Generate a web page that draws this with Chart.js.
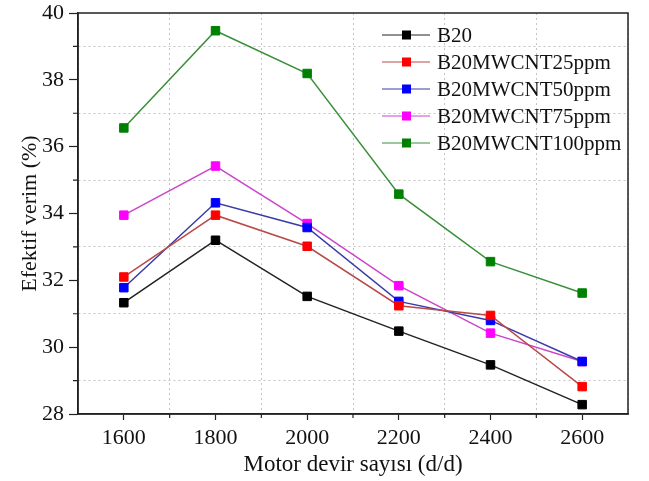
<!DOCTYPE html>
<html lang="tr">
  <head>
    <meta charset="UTF-8" />
    <title>Efektif verim</title>
    <script src="https://cdn.jsdelivr.net/npm/chart.js"></script>
    <style>
      html, body { margin: 0; padding: 0; background: #fff; }
      #wrap { width: 649px; height: 481px; }
    </style>
  </head>
  <body>
    <div id="wrap"><canvas id="verimChart"></canvas></div>
    <script>
      // motor speeds (d/d)
      const devir = [1600, 1800, 2000, 2200, 2400, 2600];

      // effective efficiency (%)
      const b20 = [31.33, 33.2, 31.52, 30.48, 29.47, 28.28];
      const b20_25ppm = [32.1, 33.95, 33.02, 31.24, 30.95, 28.82];
      const b20_50ppm = [31.78, 34.32, 33.58, 31.37, 30.8, 29.57];
      const b20_75ppm = [33.95, 35.42, 33.7, 31.84, 30.42, 29.57];
      const b20_100ppm = [36.56, 39.47, 38.19, 34.58, 32.56, 31.62];

      const seriesNames = ["B20", "B20MWCNT25ppm", "B20MWCNT50ppm", "B20MWCNT75ppm", "B20MWCNT100ppm"];

      const serif = "'Liberation Serif', 'Times New Roman', serif";

      function toXY(vals) {
        return vals.map((v, i) => ({ x: devir[i], y: v }));
      }

      function makeSet(label, vals, lineColor, markColor) {
        return {
          label: label,
          data: toXY(vals),
          borderColor: lineColor,
          backgroundColor: markColor,
          borderWidth: 1.5,
          pointStyle: "rect",
          pointRadius: 6,
          pointHoverRadius: 6,
          pointBackgroundColor: markColor,
          pointBorderColor: markColor,
          pointBorderWidth: 1,
          tension: 0,
        };
      }

      // frame, short minor ticks and the legend inside the plot
      const framePlugin = {
        id: "frame",
        afterDraw(chart) {
          const { ctx, chartArea: a, scales } = chart;
          ctx.save();
          ctx.strokeStyle = "#222";
          ctx.lineWidth = 1.5;
          ctx.strokeRect(a.left, a.top, a.right - a.left, a.bottom - a.top);

          // minor ticks
          ctx.lineWidth = 1.2;
          ctx.beginPath();
          for (let v = 1700; v < 2700; v += 200) {
            const px = scales.x.getPixelForValue(v);
            ctx.moveTo(px, a.bottom);
            ctx.lineTo(px, a.bottom + 4);
          }
          for (let v = 29; v < 40; v += 2) {
            const py = scales.y.getPixelForValue(v);
            ctx.moveTo(a.left, py);
            ctx.lineTo(a.left - 5, py);
          }
          ctx.stroke();

          // legend
          const legendX = 382, legendY = 35, rowH = 27;
          ctx.font = "21px " + serif;
          ctx.textBaseline = "middle";
          chart.data.datasets.forEach((ds, i) => {
            const y = legendY + i * rowH;
            ctx.strokeStyle = ds.borderColor;
            ctx.lineWidth = 1;
            ctx.beginPath();
            ctx.moveTo(legendX, y);
            ctx.lineTo(legendX + 48, y);
            ctx.stroke();
            ctx.fillStyle = ds.pointBackgroundColor;
            ctx.fillRect(legendX + 20, y - 4.5, 9, 9);
            ctx.fillStyle = "#111";
            ctx.fillText(ds.label, legendX + 55, y + 1);
          });
          ctx.restore();
        },
      };

      const ctx = document.getElementById("verimChart").getContext("2d");
      const verimChart = new Chart(ctx, {
        type: "line",
        data: {
          datasets: [
            makeSet(seriesNames[0], b20, "#222222", "#000000"),
            makeSet(seriesNames[1], b20_25ppm, "#b84a4a", "#ff0000"),
            makeSet(seriesNames[2], b20_50ppm, "#3a3aa8", "#0000ff"),
            makeSet(seriesNames[3], b20_75ppm, "#cc44cc", "#ff00ff"),
            makeSet(seriesNames[4], b20_100ppm, "#3a8f3a", "#008000"),
          ],
        },
        options: {
          responsive: true,
          maintainAspectRatio: false,
          animation: false,
          layout: { padding: { top: 13, right: 21, left: 0, bottom: 0 } },
          plugins: {
            legend: { display: false },
            tooltip: { enabled: false },
          },
          scales: {
            x: {
              type: "linear",
              min: 1500,
              max: 2700,
              afterFit: (s) => { s.height = 67; },
              ticks: {
                stepSize: 100,
                autoSkip: false,
                maxRotation: 0,
                padding: 5,
                color: "#111",
                font: { family: serif, size: 22 },
                callback: (v) => (v % 200 === 0 ? String(v) : ""),
              },
              grid: {
                color: (c) => (c.tick && c.tick.value % 200 === 100 ? "#c4c4c4" : "rgba(0,0,0,0)"),
                tickColor: (c) => (c.tick && c.tick.value % 200 === 0 ? "#222" : "rgba(0,0,0,0)"),
                tickLength: 6,
                tickWidth: 1.2,
                lineWidth: 1,
              },
              border: { display: true, color: "#222", width: 1.5, dash: [2, 3] },
              title: {
                display: true,
                text: "Motor devir sayısı (d/d)",
                color: "#111",
                font: { family: serif, size: 23 },
                padding: { top: 0, bottom: 2 },
              },
            },
            y: {
              min: 28,
              max: 40,
              afterFit: (s) => {
                s.width = 78;
                s.paddingTop = 0;
                s.paddingBottom = 0;
              },
              ticks: {
                stepSize: 1,
                autoSkip: false,
                padding: 5,
                color: "#111",
                font: { family: serif, size: 22 },
                callback: (v) => (v % 2 === 0 ? String(v) : ""),
              },
              grid: {
                color: (c) => (c.tick && c.tick.value % 2 === 1 ? "#c4c4c4" : "rgba(0,0,0,0)"),
                tickColor: (c) => (c.tick && c.tick.value % 2 === 0 ? "#222" : "rgba(0,0,0,0)"),
                tickLength: 9,
                tickWidth: 1.2,
                lineWidth: 1,
              },
              border: { display: true, color: "#222", width: 1.5, dash: [2, 3] },
              title: {
                display: true,
                text: "Efektif verim (%)",
                color: "#111",
                font: { family: serif, size: 22 },
                padding: { top: 17, bottom: 0 },
              },
            },
          },
        },
        plugins: [framePlugin],
      });
    </script>
  </body>
</html>
